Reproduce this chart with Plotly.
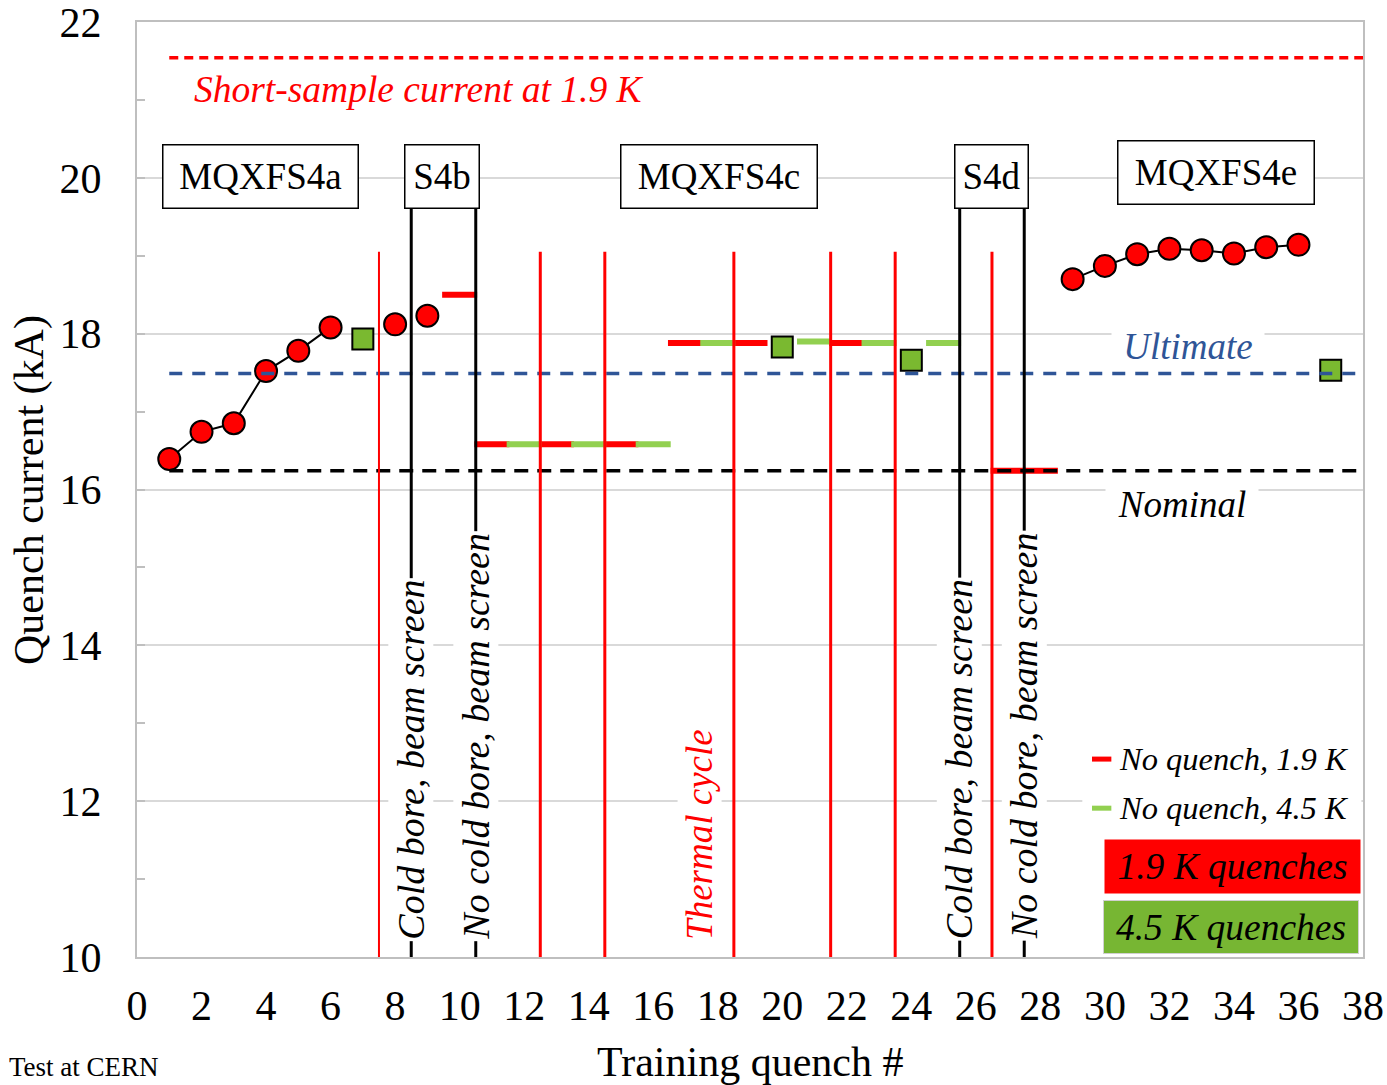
import plotly.graph_objects as go

# 1.9 K quenches (red circles)
q19_a_x = [1, 2, 3, 4, 5, 6]
q19_a_y = [16.39, 16.74, 16.85, 17.52, 17.78, 18.08]
q19_b_x = [8, 9]
q19_b_y = [18.12, 18.23]
q19_e_x = [29, 30, 31, 32, 33, 34, 35, 36]
q19_e_y = [18.70, 18.87, 19.02, 19.09, 19.07, 19.03, 19.11, 19.14]

# 4.5 K quenches (green squares)
q45_x = [7, 20, 24, 37]
q45_y = [17.93, 17.83, 17.66, 17.53]

# no quench reached
noq19_x = [10, 11, 13, 15, 17, 19, 22, 27, 28]
noq19_y = [18.50, 16.58, 16.58, 16.58, 17.88, 17.88, 17.88, 16.24, 16.24]
noq45_x = [12, 14, 16, 18, 21, 23, 25]
noq45_y = [16.58, 16.58, 16.58, 17.88, 17.90, 17.88, 17.88]

# reference levels (kA)
ref_x = [1, 38]
short_sample = 21.54
ultimate = 17.49
nominal = 16.24

# separators
red_sep_x = [7.5, 12.5, 14.5, 18.5, 21.5, 23.5, 26.5]
black_sep_x = [8.5, 10.5, 25.5, 27.5]

# magnet labels
magnet_names = ["MQXFS4a", "S4b", "MQXFS4c", "S4d", "MQXFS4e"]
magnet_x = [3.84, 9.46, 18.05, 26.5, 33.45]
magnet_y = [20.02, 20.02, 20.02, 20.02, 20.07]
magnet_w = [194, 73, 195, 72, 195]

# rotated notes
note_text = ["Cold bore, beam screen", "No cold bore, beam screen", "Thermal cycle",
             "Cold bore, beam screen", "No cold bore, beam screen"]
note_x = [8.5, 10.5, 17.45, 25.5, 27.5]

FONT = "Times New Roman, Liberation Serif, serif"
RED = "#FF0000"
GREEN = "#7AB930"
LGREEN = "#92D050"
BLUE = "#2F5597"
GRAY = "#BFBFBF"

fig = go.Figure()

for xs, ys, mode in [(q19_a_x, q19_a_y, "lines+markers"),
                     (q19_b_x, q19_b_y, "markers"),
                     (q19_e_x, q19_e_y, "lines+markers")]:
    fig.add_trace(go.Scatter(
        x=xs, y=ys, mode=mode,
        line=dict(color="black", width=2),
        marker=dict(symbol="circle", size=22, color=RED, line=dict(color="black", width=2)),
        showlegend=False,
    ))

fig.add_trace(go.Scatter(
    x=q45_x, y=q45_y, mode="markers",
    marker=dict(symbol="square", size=21, color=GREEN, line=dict(color="black", width=2)),
    showlegend=False,
))

fig.add_trace(go.Scatter(
    x=noq19_x, y=noq19_y, mode="markers",
    marker=dict(symbol="line-ew", size=25, line=dict(color=RED, width=6)),
    showlegend=False,
))
fig.add_trace(go.Scatter(
    x=noq45_x, y=noq45_y, mode="markers",
    marker=dict(symbol="line-ew", size=25, line=dict(color=LGREEN, width=6)),
    showlegend=False,
))

# reference lines
for level, color, dash in [(short_sample, RED, "9px,6px"),
                           (ultimate, BLUE, "13px,10px"),
                           (nominal, "black", "14px,9px")]:
    fig.add_trace(go.Scatter(
        x=ref_x, y=[level, level], mode="lines",
        line=dict(color=color, width=3.5, dash=dash),
        showlegend=False, hoverinfo="skip",
    ))

shapes = []
for i, xv in enumerate(red_sep_x):
    shapes.append(dict(type="line", xref="x", yref="y", x0=xv, x1=xv, y0=19.05, y1=10,
                       line=dict(color=RED, width=2 if i == 0 else 3)))
for xv in black_sep_x:
    shapes.append(dict(type="line", xref="x", yref="y", x0=xv, x1=xv, y0=19.61, y1=10,
                       line=dict(color="black", width=3)))

# legend area background + line samples
shapes.append(dict(type="rect", xref="x", yref="y", x0=29.3, x1=37.95, y0=10.02, y1=12.9,
                   fillcolor="white", line=dict(width=0), layer="above"))
shapes.append(dict(type="line", xref="x", yref="y", x0=29.6, x1=30.2, y0=12.54, y1=12.54,
                   line=dict(color=RED, width=5), layer="above"))
shapes.append(dict(type="line", xref="x", yref="y", x0=29.6, x1=30.2, y0=11.91, y1=11.91,
                   line=dict(color=LGREEN, width=5), layer="above"))

annotations = []
for name, xv, yv, w in zip(magnet_names, magnet_x, magnet_y, magnet_w):
    annotations.append(dict(x=xv, y=yv, xref="x", yref="y", text=name, showarrow=False,
                            font=dict(family=FONT, size=37, color="black"),
                            bgcolor="white", bordercolor="black", borderwidth=1.5,
                            borderpad=0, width=w, height=62))

for txt, xv in zip(note_text, note_x):
    annotations.append(dict(x=xv, y=10.2, xref="x", yref="y", text="<i>%s</i>" % txt,
                            showarrow=False, textangle=-90, yanchor="bottom",
                            font=dict(family=FONT, size=37 if txt == "Thermal cycle" else 38,
                                      color=RED if txt == "Thermal cycle" else "black"),
                            bgcolor="white", borderpad=1))

annotations += [
    dict(x=8.74, y=21.13, xref="x", yref="y", text="<i>Short-sample current at 1.9 K</i>",
         showarrow=False, font=dict(family=FONT, size=37.5, color=RED)),
    dict(x=32.58, y=17.83, xref="x", yref="y", text="<i>Ultimate</i>", showarrow=False,
         font=dict(family=FONT, size=37, color=BLUE), bgcolor="white", width=150),
    dict(x=32.4, y=15.81, xref="x", yref="y", text="<i>Nominal</i>", showarrow=False,
         font=dict(family=FONT, size=37, color="black"), bgcolor="white", width=150),
    dict(x=30.38, y=12.54, xref="x", yref="y", text="<i>No quench, 1.9 K</i>", showarrow=False,
         xanchor="left", font=dict(family=FONT, size=32.5, color="black")),
    dict(x=30.38, y=11.91, xref="x", yref="y", text="<i>No quench, 4.5 K</i>", showarrow=False,
         xanchor="left", font=dict(family=FONT, size=32.5, color="black")),
    dict(x=33.94, y=11.16, xref="x", yref="y", text="<i>1.9 K quenches</i>", showarrow=False,
         font=dict(family=FONT, size=37.5, color="black"), bgcolor=RED,
         width=255, height=53, borderpad=0),
    dict(x=33.9, y=10.39, xref="x", yref="y", text="<i>4.5 K quenches</i>", showarrow=False,
         font=dict(family=FONT, size=37.5, color="black"), bgcolor="#77B633",
         bordercolor="#D0D0D0", borderwidth=1, width=254, height=52, borderpad=0),
    # axis titles and footnote (plot area spans 1226 x 935 px)
    dict(x=-107 / 1226, y=0.4995, xref="paper", yref="paper", text="Quench current (kA)",
         xanchor="center", yanchor="middle",
         showarrow=False, textangle=-90, font=dict(family=FONT, size=42, color="black")),
    dict(x=0.5, y=-105 / 935, xref="paper", yref="paper", text="Training quench #",
         xanchor="center", yanchor="middle",
         showarrow=False, font=dict(family=FONT, size=42, color="black")),
    dict(x=-130 / 1226, y=-110 / 935, xref="paper", yref="paper", text="Test at CERN",
         showarrow=False, xanchor="left", yanchor="middle",
         font=dict(family=FONT, size=27, color="black")),
]

fig.update_layout(
    xaxis=dict(
        range=[0, 38], dtick=2, tick0=0, showgrid=False, zeroline=False,
        showline=True, linecolor=GRAY, linewidth=2, mirror=True, ticks="",
        tickfont=dict(family=FONT, size=42, color="black"), ticklabelstandoff=11,
        ticklabeloverflow="allow", automargin=False,
    ),
    yaxis=dict(
        range=[10, 22], dtick=2, tick0=10, showgrid=True, gridcolor="#D9D9D9", gridwidth=2,
        zeroline=False, showline=True, linecolor=GRAY, linewidth=2, mirror=True,
        ticks="inside", ticklen=8, tickcolor=GRAY, tickwidth=2,
        minor=dict(ticks="inside", dtick=1, ticklen=8, tickcolor=GRAY, tickwidth=2, showgrid=False),
        tickfont=dict(family=FONT, size=42, color="black"), ticklabelstandoff=25,
        ticklabeloverflow="allow", automargin=False,
    ),
    shapes=shapes,
    annotations=annotations,
    width=1387, height=1085,
    margin=dict(l=137, r=24, t=22, b=128),
    plot_bgcolor="white", paper_bgcolor="white",
    showlegend=False,
)

# drop the default 8px page margin so the figure fills the window exactly
fig.write_html("out.html", config={"displayModeBar": False},
               post_script="document.body.style.margin='0';document.body.style.overflow='hidden';")
